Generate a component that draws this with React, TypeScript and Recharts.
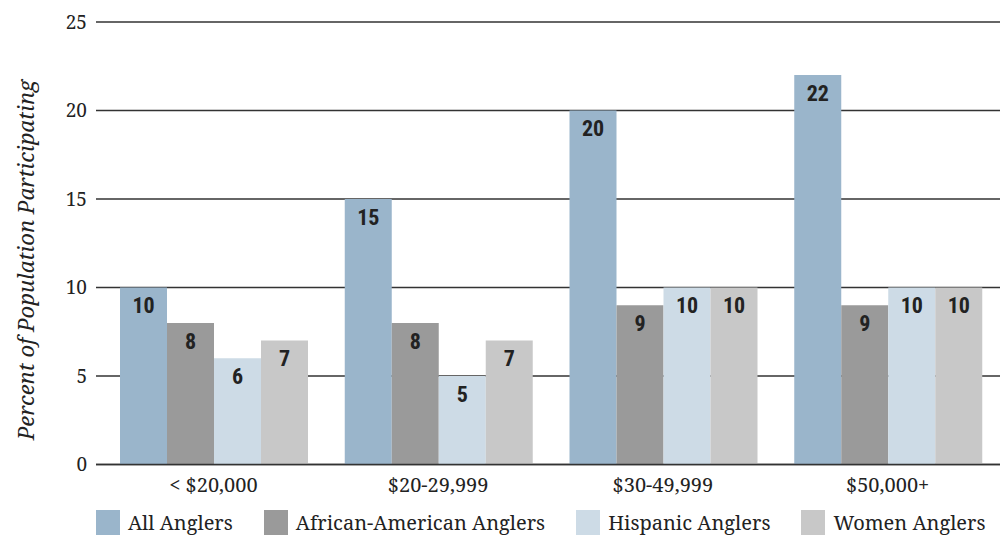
import { BarChart, Bar, XAxis, YAxis, CartesianGrid, Legend, LabelList } from "recharts"

const categories = ["< $20,000", "$20-29,999", "$30-49,999", "$50,000+"]
const allAnglers = [10, 15, 20, 22]
const africanAmericanAnglers = [8, 8, 9, 9]
const hispanicAnglers = [6, 5, 10, 10]
const womenAnglers = [7, 7, 10, 10]
const yTicks = [0, 5, 10, 15, 20, 25]

const series = [
    { key: "all", name: "All Anglers", color: "#9ab5cb" },
    { key: "african", name: "African-American Anglers", color: "#9a9a9a" },
    { key: "hispanic", name: "Hispanic Anglers", color: "#cddbe6" },
    { key: "women", name: "Women Anglers", color: "#c8c8c8" },
]

const data = categories.map((name, i) => ({
    name,
    all: allAnglers[i],
    african: africanAmericanAnglers[i],
    hispanic: hispanicAnglers[i],
    women: womenAnglers[i],
}))

const serif = "'Noto Serif', 'Liberation Serif', serif"
const narrow = "'Roboto Condensed', 'DejaVu Sans Condensed', sans-serif"

function LegendRow() {
    return (
        <div
            style={{
                display: "flex",
                alignItems: "center",
                height: 25,
                marginTop: 10,
                paddingLeft: 96,
                fontFamily: serif,
                fontSize: 20,
                color: "#222",
                whiteSpace: "nowrap",
            }}
        >
            {series.map((s) => (
                <div key={s.key} style={{ display: "flex", alignItems: "center", marginRight: 31, flexShrink: 0 }}>
                    <span style={{ width: 24, height: 25, background: s.color, marginRight: 8, display: "inline-block", flexShrink: 0 }} />
                    <span>{s.name}</span>
                </div>
            ))}
        </div>
    )
}

export default function App() {
    return (
        <div style={{ position: "absolute", left: 0, top: 0 }}>
            <BarChart
                width={1005}
                height={537}
                data={data}
                margin={{ top: 22, right: 5, bottom: 0, left: 0 }}
                barCategoryGap={19}
                barGap={0}
            >
                <CartesianGrid vertical={false} stroke="#333" strokeWidth={1.5} />
                <YAxis
                    domain={[0, 25]}
                    ticks={yTicks}
                    width={96}
                    axisLine={false}
                    tickLine={false}
                    tickSize={0}
                    tickMargin={9}
                    tick={{ fill: "#222", fontFamily: serif, fontSize: 19 }}
                    label={{
                        content: () => (
                            <text
                                x={25}
                                y={260}
                                transform="rotate(-90 25 260)"
                                textAnchor="middle"
                                dominantBaseline="central"
                                fill="#222"
                                fontFamily={serif}
                                fontStyle="italic"
                                fontSize={22}
                            >
                                Percent of Population Participating
                            </text>
                        ),
                    }}
                />
                {series.map((s) => (
                    <Bar key={s.key} dataKey={s.key} name={s.name} fill={s.color} isAnimationActive={false}>
                        <LabelList
                            dataKey={s.key}
                            position="insideTop"
                            offset={10}
                            fill="#222"
                            style={{ fontFamily: narrow, fontWeight: "bold", fontSize: 22 }}
                        />
                    </Bar>
                ))}
                <XAxis
                    dataKey="name"
                    height={35.5}
                    padding={{ left: 5, right: 0 }}
                    axisLine={{ stroke: "#333", strokeWidth: 1.5 }}
                    tickLine={false}
                    tickSize={0}
                    tickMargin={13}
                    tick={{ fill: "#222", fontFamily: serif, fontSize: 20 }}
                />
                <Legend verticalAlign="bottom" height={37} content={() => <LegendRow />} />
            </BarChart>
        </div>
    )
}
